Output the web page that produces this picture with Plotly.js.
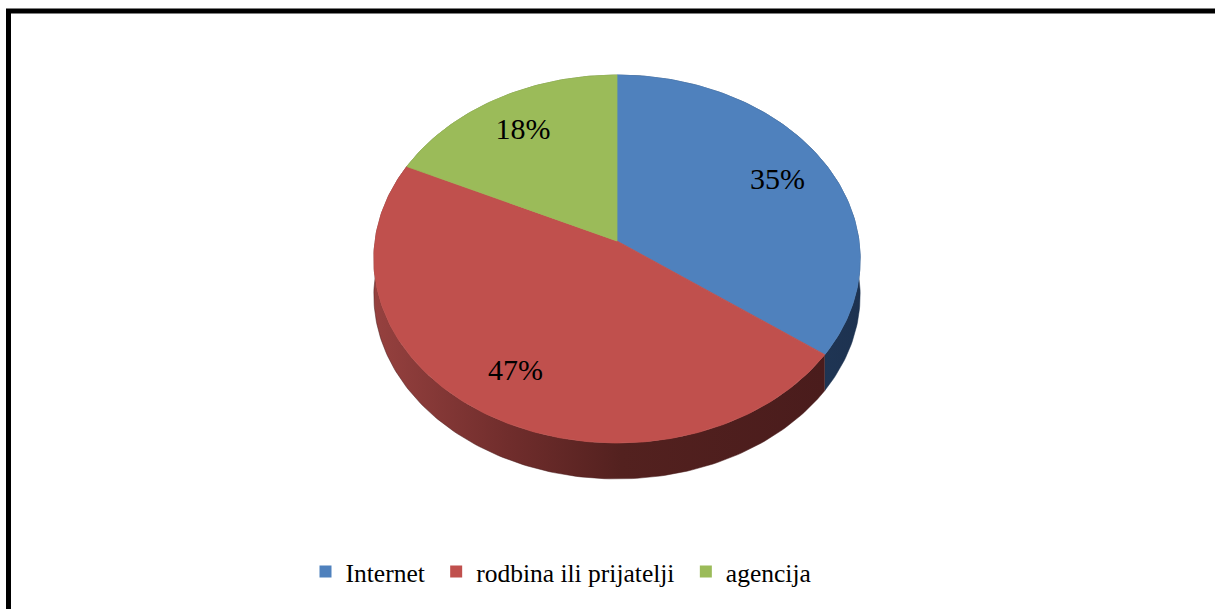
<!DOCTYPE html>
<html>
<head>
<meta charset="utf-8">
<script src="https://cdn.plot.ly/plotly-3.0.1.min.js"></script>
<style>html,body{margin:0;padding:0;background:#fff;}#chart{width:1215px;height:609px;}</style>
</head>
<body>
<div id="chart"></div>
<script>
// ---- data ----
const categories = ['Internet', 'rodbina ili prijatelji', 'agencija'];
const values = [35, 47, 18];
const faceColors = ['#4f81bd', '#c0504d', '#9bbb59'];
const wallScales = [
  [[0, '#2a4468'], [1, '#1d3250']],
  [[0, '#96413f'], [0.3, '#702d2c'], [0.55, '#53211f'], [1, '#4a1c1c']],
  [[0, '#6d8a3a'], [1, '#4f6628']]
];

// ---- geometry of the tilted pie (layout constants) ----
const CX = 617, CY = 241, A = 242, B = 182.2, E = 0.0978, DEPTH = 36;
function proj(thetaDeg, f) {
  const t = thetaDeg * Math.PI / 180;
  const u = f * Math.sin(t), v = f * Math.cos(t);
  const d = 1 + E * v;
  return [CX + A * u / d, CY - B * v / d];
}
function arc(a0, a1, f, dy) {
  const xs = [], ys = [];
  const n = Math.max(2, Math.ceil(Math.abs(a1 - a0)));
  for (let i = 0; i <= n; i++) {
    const p = proj(a0 + (a1 - a0) * i / n, f);
    xs.push(p[0]); ys.push(p[1] + dy);
  }
  return [xs, ys];
}

const total = values.reduce((a, b) => a + b, 0);
const starts = [], ends = [];
let acc = 0;
values.forEach(v => { starts.push(acc / total * 360); acc += v; ends.push(acc / total * 360); });

const traces = [];
// side walls
values.forEach((v, i) => {
  const top = arc(starts[i], ends[i], 1, 0);
  const bot = arc(starts[i], ends[i], 1, DEPTH);
  traces.push({
    type: 'scatter', mode: 'lines', fill: 'toself',
    x: top[0].concat(bot[0].slice().reverse()),
    y: top[1].concat(bot[1].slice().reverse()),
    line: {width: 0.5, color: wallScales[i][wallScales[i].length - 1][1]},
    fillcolor: wallScales[i][0][1],
    fillgradient: {type: 'horizontal', colorscale: wallScales[i]},
    hoverinfo: 'skip', showlegend: false
  });
});
// top faces
values.forEach((v, i) => {
  const a = arc(starts[i], ends[i], 1, 0);
  traces.push({
    type: 'scatter', mode: 'lines', fill: 'toself',
    x: [CX].concat(a[0]).concat([CX]),
    y: [CY].concat(a[1]).concat([CY]),
    line: {width: 0.8, color: faceColors[i]},
    fillcolor: faceColors[i],
    hoverinfo: 'skip', showlegend: false
  });
});
// percentage labels
const lx = [], ly = [], lt = [];
values.forEach((v, i) => {
  const p = proj((starts[i] + ends[i]) / 2, 0.77);
  lx.push(p[0]); ly.push(p[1] + 2);
  lt.push(Math.round(v / total * 100) + '%');
});
traces.push({
  type: 'scatter', mode: 'text', x: lx, y: ly, text: lt,
  textposition: 'middle center',
  textfont: {family: 'Liberation Serif, Times New Roman, serif', size: 30, color: '#000'},
  hoverinfo: 'skip', showlegend: false
});
// legend entries
categories.forEach((c, i) => {
  traces.push({
    type: 'scatter', mode: 'markers', x: [null], y: [null], name: c + '\u00a0',
    marker: {symbol: 'square', size: 12, color: faceColors[i]},
    showlegend: true, hoverinfo: 'skip'
  });
});

const layout = {
  width: 1215, height: 609,
  margin: {l: 0, r: 0, t: 0, b: 0, pad: 0},
  paper_bgcolor: '#fff', plot_bgcolor: '#fff',
  xaxis: {range: [0, 1215], visible: false, fixedrange: true},
  yaxis: {range: [609, 0], visible: false, fixedrange: true},
  showlegend: true,
  legend: {
    orientation: 'h', x: 564 / 1215, xanchor: 'center', y: 1 - 572 / 609, yanchor: 'middle',
    font: {family: 'Liberation Serif, Times New Roman, serif', size: 25.5, color: '#000'},
    itemwidth: 30, bgcolor: 'rgba(0,0,0,0)'
  },
  shapes: [{
    type: 'rect', xref: 'paper', yref: 'paper',
    x0: 8.5 / 1215, x1: 1.02, y0: 1 - 11 / 609, y1: -0.02,
    line: {color: '#000', width: 5}, fillcolor: 'rgba(0,0,0,0)'
  }]
};

Plotly.newPlot('chart', traces, layout, {staticPlot: true, displayModeBar: false});
</script>
</body>
</html>
